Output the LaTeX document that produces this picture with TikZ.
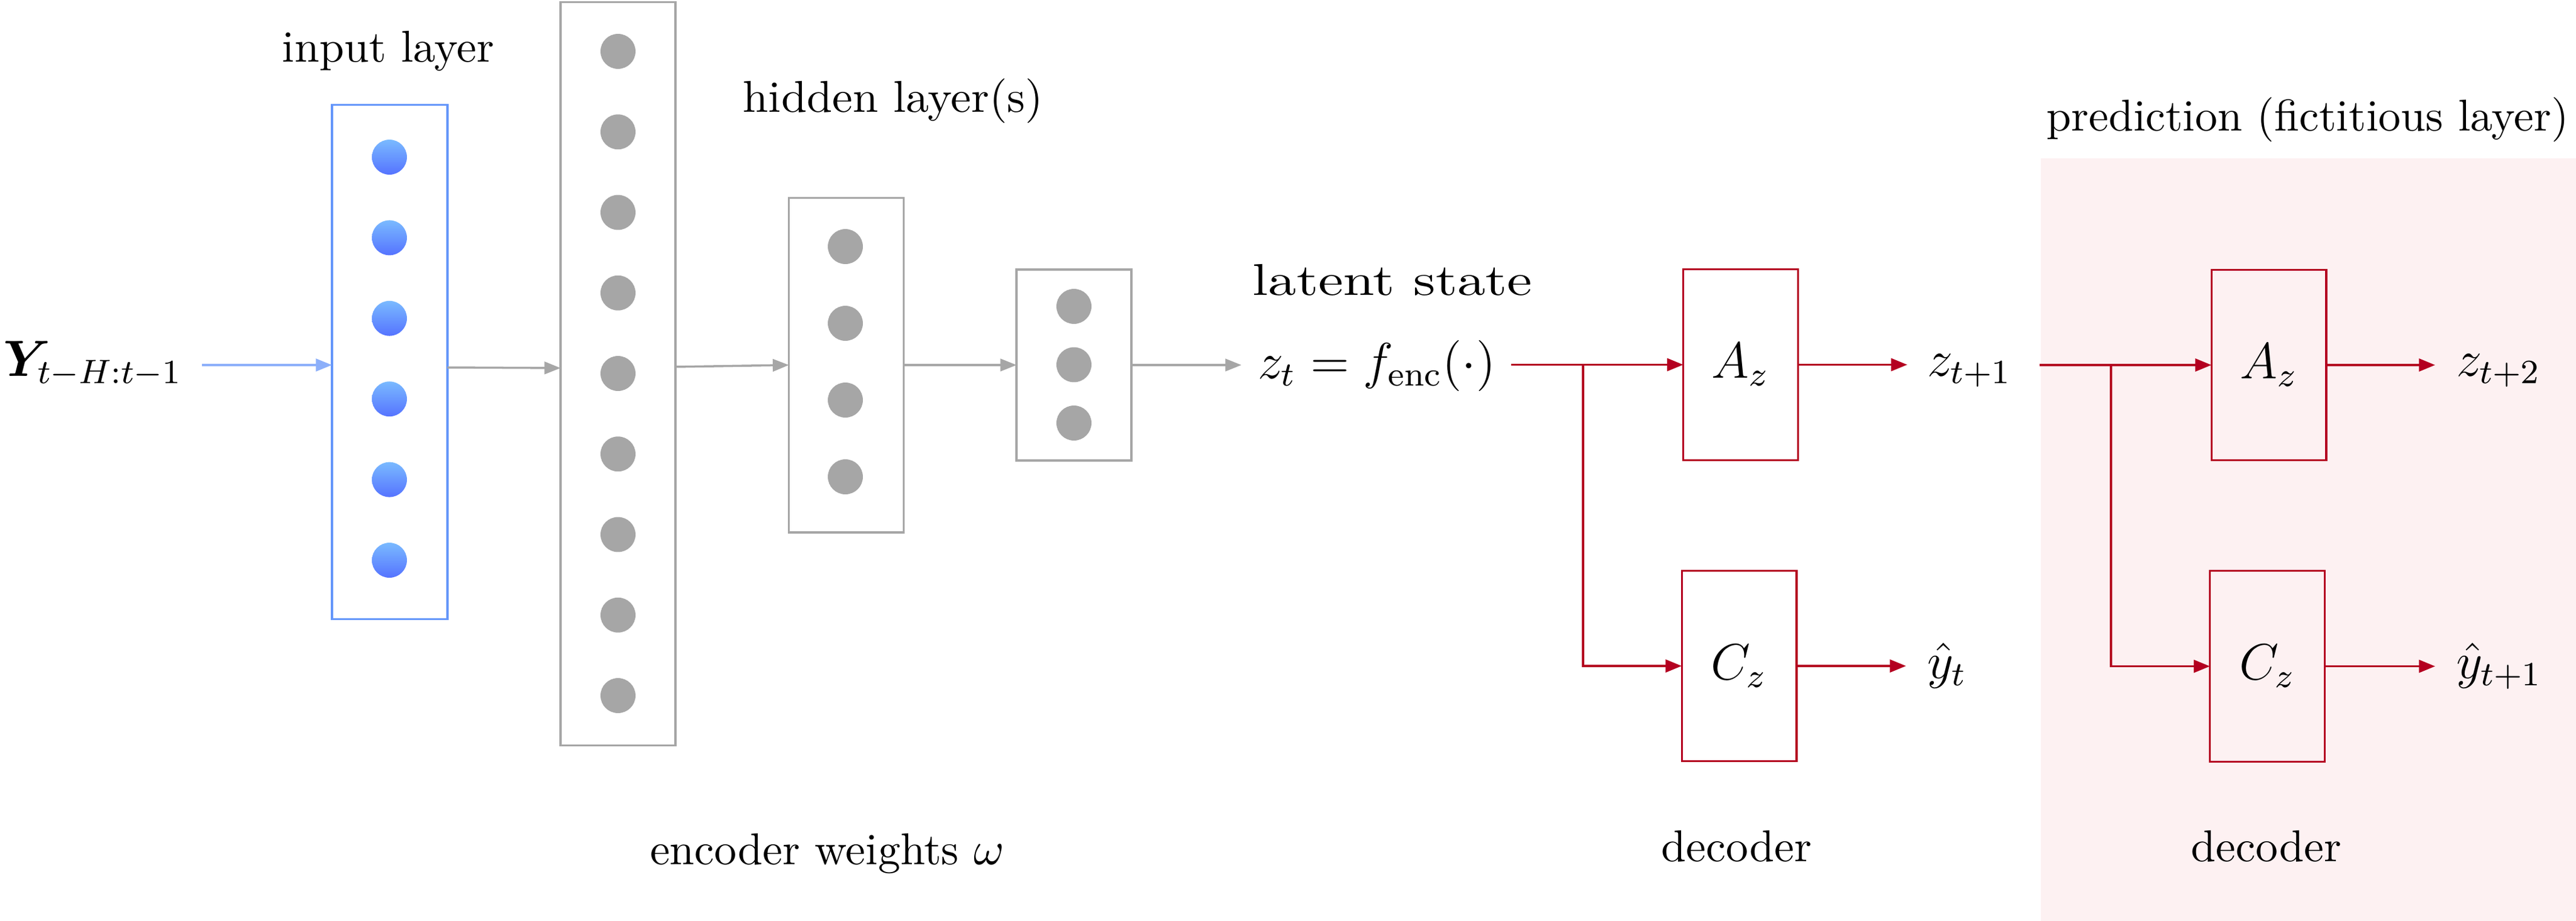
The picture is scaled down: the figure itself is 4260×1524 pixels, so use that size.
\documentclass[tikz,border=0pt]{standalone}
\usepackage{amsmath,bm,graphicx}
\usetikzlibrary{arrows.meta,calc}
\definecolor{gr}{RGB}{166,166,166}
\definecolor{bl}{RGB}{100,150,250}
\definecolor{bla}{RGB}{140,175,250}
\definecolor{btop}{RGB}{122,186,255}
\definecolor{bbot}{RGB}{85,115,255}
\definecolor{rd}{RGB}{180,0,32}
\definecolor{pk}{RGB}{253,241,242}
\begin{document}
\begin{tikzpicture}[x=0.005cm,y=-0.005cm,
  txt/.style={font=\fontsize{10.5}{12}\selectfont, inner sep=0pt},
  mth/.style={font=\fontsize{11.5}{13}\selectfont, inner sep=0pt},
  gbox/.style={draw=gr, line width=0.5pt, minimum width=0.95cm, inner sep=0pt, outer sep=0pt},
  bbox/.style={draw=bl, line width=0.5pt, minimum width=0.955cm, inner sep=0pt, outer sep=0pt},
  rbox/.style={draw=rd, line width=0.45pt, minimum width=0.95cm, minimum height=1.58cm, inner sep=0pt, outer sep=0pt, font=\fontsize{11.5}{13}\selectfont},
  gdot/.style={circle, fill=gr, minimum size=0.29cm, inner sep=0pt},
  bdot/.style={circle, top color=btop, bottom color=bbot, minimum size=0.29cm, inner sep=0pt},
  garr/.style={draw=gr, line width=0.5pt, -{Triangle[length=3.8pt,width=2.9pt]}},
  barr/.style={draw=bla, line width=0.6pt, -{Triangle[length=3.8pt,width=2.9pt]}},
  rline/.style={draw=rd, line width=0.45pt},
  rarr/.style={draw=rd, line width=0.45pt, -{Triangle[length=3.8pt,width=3pt]}}
]
\useasboundingbox (0,0) rectangle (4260,1524);
% prediction background
\fill[pk] (3375,262) rectangle (4260,1524);

% encoder layers
\node[bbox, minimum height=4.26cm] (inp) at (644.5,599) {};
\foreach \k in {0,...,5} \node[bdot] (i\k) at (644, 260+133.4*\k) {};
\node[gbox, minimum height=6.155cm] (h1) at (1022,618.5) {};
\foreach \k in {0,...,8} \node[gdot] (a\k) at (1022, 85+133.25*\k) {};
\node[gbox, minimum height=2.77cm] (h2) at (1399.5,604) {};
\foreach \k in {0,...,3} \node[gdot] (b\k) at (1398, 408+127*\k) {};
\node[gbox, minimum height=1.58cm] (h3) at (1776,604) {};
\foreach \k in {0,...,2} \node[gdot] (c\k) at (1776, 507+96.5*\k) {};

% labels
\node[txt, anchor=base] (linput) at (642,102) {input layer};
\node[txt, anchor=base] (lhidden) at (1477,185) {\scalebox{1.03}[1]{hidden layer(s)}};
\node[txt, anchor=base] (llat) at (2303,488) {\scalebox{1.26}[1]{latent state}};
\node[txt, anchor=base] (lenc) at (1368,1430) {encoder weights $\omega$};
\node[txt, anchor=base] (ldec1) at (2872,1425) {decoder};
\node[txt, anchor=base] (ldec2) at (3748,1425) {decoder};
\node[txt, anchor=base] (lpred) at (3816,216) {prediction (fictitious layer)};

% math labels
\node[mth, font=\fontsize{12}{14}\selectfont, anchor=base west] (Y) at (4,622) {$\bm{Y}_{t-H:t-1}$};
\node[mth, anchor=base west] (zt) at (2079,626) {$z_t = f_{\text{enc}}(\cdot)$};
\node[mth, anchor=base west] (z1) at (3186,622) {$z_{t+1}$};
\node[mth, anchor=base west] (z2) at (4061,622) {$z_{t+2}$};
\node[mth, anchor=base west] (y0) at (3186,1122) {$\hat{y}_{t}$};
\node[mth, anchor=base west] (y1) at (4061,1122) {$\hat{y}_{t+1}$};

% decoder boxes
\node[rbox] (A1) at (2878.5,603.5) {$A_z$};
\node[rbox] (C1) at (2876,1102) {$C_z$};
\node[rbox] (A2) at (3752,604) {$A_z$};
\node[rbox] (C2) at (3749.5,1102.5) {$C_z$};

% coordinates for connector ends
\coordinate (ay) at (334,604);
\coordinate (az) at (2053,604);
\coordinate (zs) at (2499,603.5);
\coordinate (br1) at (2618,603.5);
\coordinate (e1) at (3154,603.5);
\coordinate (f1) at (3152,1102);
\coordinate (zs2) at (3373,604);
\coordinate (br2) at (3491,604);
\coordinate (e2) at (4027,604);
\coordinate (f2) at (4027,1102.5);

% encoder connectors
\draw[barr] (ay) -- (ay -| inp.west);
\draw[garr] ($(inp.east)+(0,9)$) -- ($(h1.west)+(0,-9.5)$);
\draw[garr] ($(h1.east)+(0,-11.5)$) -- (h2.west);
\draw[garr] (h2.west -| h2.east) -- (h3.west);
\draw[garr] (h3.east) -- (az);

% decoder connectors
\draw[rline] (zs) -- (br1);
\draw[rarr] (br1) -- (A1.west);
\draw[rarr] (br1) |- (C1.west);
\draw[rarr] (A1.east) -- (e1);
\draw[rarr] (C1.east) -- (f1);
\draw[rline] (zs2) -- (br2);
\draw[rarr] (br2) -- (A2.west);
\draw[rarr] (br2) |- (C2.west);
\draw[rarr] (A2.east) -- (e2);
\draw[rarr] (C2.east) -- (f2);
\end{tikzpicture}
\end{document}
